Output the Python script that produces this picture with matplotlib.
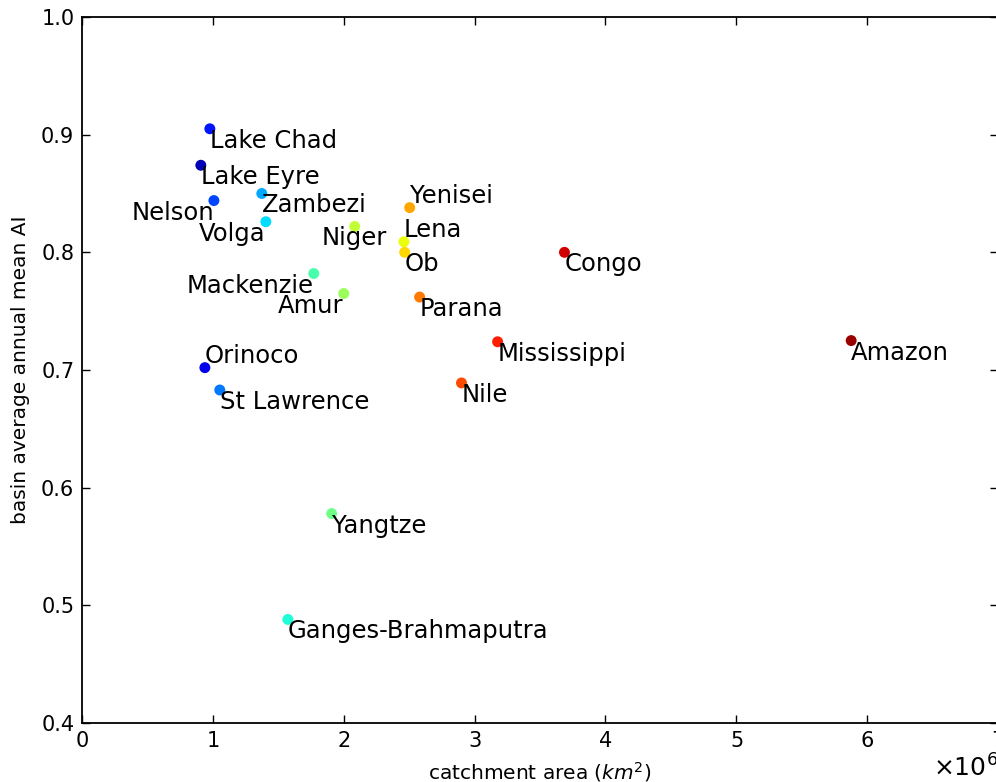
import numpy as np
import matplotlib
matplotlib.use("Agg")
import matplotlib.pyplot as plt

# River basins: catchment area (km^2) and basin-average annual mean aridity index
basins = ["Lake Chad", "Lake Eyre", "Nelson", "Zambezi", "Volga", "Niger",
          "Yenisei", "Lena", "Ob", "Congo", "Mackenzie", "Amur", "Parana",
          "Mississippi", "Amazon", "Orinoco", "St Lawrence", "Nile",
          "Yangtze", "Ganges-Brahmaputra"]
area = [0.977e6, 0.908e6, 1.008e6, 1.374e6, 1.405e6, 2.084e6,
        2.504e6, 2.460e6, 2.466e6, 3.687e6, 1.771e6, 2.000e6, 2.580e6,
        3.176e6, 5.878e6, 0.939e6, 1.053e6, 2.900e6,
        1.908e6, 1.573e6]
mean_ai = [0.905, 0.874, 0.844, 0.850, 0.826, 0.822,
           0.838, 0.809, 0.800, 0.800, 0.782, 0.765, 0.762,
           0.724, 0.725, 0.702, 0.683, 0.689,
           0.578, 0.488]
# label anchor: (horizontal alignment, vertical alignment)
label_align = {
    "Nelson": ("right", "top"), "Volga": ("right", "top"),
    "Mackenzie": ("right", "top"), "Amur": ("right", "top"),
    "Niger": ("center", "top"), "Yenisei": ("left", "bottom"),
    "Lena": ("left", "bottom"), "Orinoco": ("left", "bottom"),
}

area = np.array(area)
mean_ai = np.array(mean_ai)
# colour each basin by the rank of its catchment area
rank = np.argsort(np.argsort(area))

fig = plt.figure(figsize=(9.96, 7.82), dpi=100)
ax = fig.add_axes([82 / 996, 59 / 782, 916 / 996, 706 / 782])

ax.scatter(area, mean_ai, c=rank, cmap="jet", vmin=-1, vmax=19.5,
           s=62, linewidths=0, zorder=3)
for name, x, y in zip(basins, area, mean_ai):
    ha, va = label_align.get(name, ("left", "top"))
    ax.text(x, y, name, ha=ha, va=va, fontsize=17.5, zorder=4)

ax.set_xlim(0, 7e6)
ax.set_ylim(0.4, 1.0)
ax.set_xticks(np.arange(0, 8) * 1e6)
ax.set_yticks(np.arange(0.4, 1.01, 0.1))
ax.ticklabel_format(axis="x", style="sci", scilimits=(0, 0), useMathText=True)
ax.xaxis.get_offset_text().set_fontsize(18)
ax.tick_params(direction="in", top=True, right=True, length=6, width=1,
               labelsize=15, pad=5.5)
for sp in ax.spines.values():
    sp.set_linewidth(1.3)

ax.set_xlabel("catchment area ($km^2$)", fontsize=14.5, labelpad=6.5)
ax.set_ylabel("basin average annual mean AI", fontsize=14.5, labelpad=8)

fig.savefig("out.png", dpi=100)
